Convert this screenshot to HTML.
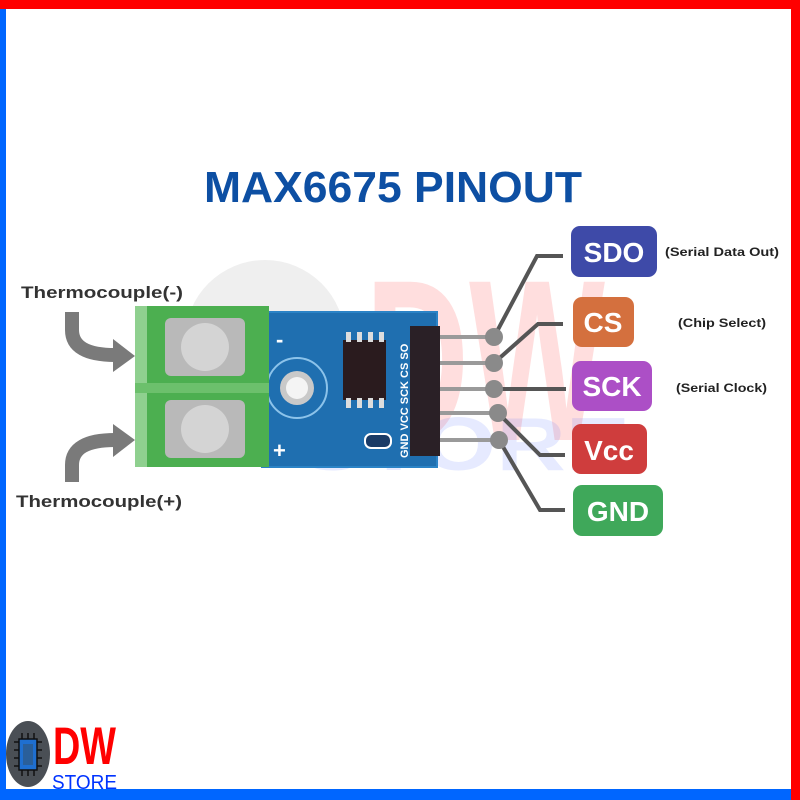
<!DOCTYPE html>
<html><head><meta charset="utf-8"><style>
html,body{margin:0;padding:0;background:#fff}
svg{display:block}
text{font-family:"Liberation Sans",sans-serif;font-weight:bold}
</style></head><body>
<svg width="800" height="800" viewBox="0 0 800 800" xmlns="http://www.w3.org/2000/svg">
<rect width="800" height="800" fill="#fff"/>
<!-- borders -->
<rect x="0" y="0" width="800" height="9" fill="#ff0000"/>
<rect x="791" y="0" width="9" height="800" fill="#ff0000"/>
<rect x="0" y="9" width="6" height="791" fill="#0066ff"/>
<rect x="0" y="789" width="791" height="11" fill="#0066ff"/>

<!-- watermarks -->
<circle cx="265" cy="340" r="80" fill="#efefef"/>
<text x="365" y="440" font-size="230" fill="#ff0000" fill-opacity="0.13" textLength="240" lengthAdjust="spacingAndGlyphs">DW</text>
<text x="300" y="470" font-size="75" fill="#3355ff" fill-opacity="0.12" textLength="330" lengthAdjust="spacingAndGlyphs">STORE</text>

<!-- title -->
<text x="204" y="202" font-size="44" fill="#0d4fa3" textLength="378" lengthAdjust="spacingAndGlyphs">MAX6675 PINOUT</text>

<!-- thermocouple labels -->
<text x="21" y="298" font-size="17" fill="#333" textLength="162" lengthAdjust="spacingAndGlyphs">Thermocouple(-)</text>
<text x="16" y="507" font-size="17" fill="#333" textLength="166" lengthAdjust="spacingAndGlyphs">Thermocouple(+)</text>
<!-- arrows -->
<path d="M72 312 L72 330 Q72 355 115 355" fill="none" stroke="#7a7a7a" stroke-width="14"/>
<polygon points="113,339 135,356 113,372" fill="#7a7a7a"/>
<path d="M72 482 L72 465 Q72 440 115 440" fill="none" stroke="#7a7a7a" stroke-width="14"/>
<polygon points="113,424 135,440 113,457" fill="#7a7a7a"/>

<!-- PCB -->
<rect x="262" y="312" width="175" height="155" fill="#1f6fb0"/>
<rect x="262" y="312" width="175" height="155" fill="none" stroke="#2b83c6" stroke-width="2"/>
<circle cx="297" cy="388" r="30" fill="none" stroke="#8cc3ea" stroke-width="2"/>
<circle cx="297" cy="388" r="17" fill="#c9c9c9"/>
<circle cx="297" cy="388" r="11" fill="#f4f4f4"/>
<text x="276" y="347" font-size="22" fill="#fff">-</text>
<text x="273" y="458" font-size="22" fill="#fff">+</text>
<rect x="343" y="340" width="43" height="60" fill="#2a1b1e"/>
<g fill="#ddd"><rect x="346" y="332" width="5" height="10"/><rect x="357" y="332" width="5" height="10"/><rect x="368" y="332" width="5" height="10"/><rect x="379" y="332" width="5" height="10"/>
<rect x="346" y="398" width="5" height="10"/><rect x="357" y="398" width="5" height="10"/><rect x="368" y="398" width="5" height="10"/><rect x="379" y="398" width="5" height="10"/></g>
<rect x="365" y="434" width="26" height="14" rx="6" fill="#1a3b66" stroke="#fff" stroke-width="2"/>
<text transform="translate(408,458) rotate(-90)" font-size="11" fill="#fff">GND VCC SCK CS SO</text>
<rect x="410" y="326" width="30" height="130" fill="#2a2026"/>

<!-- terminal block -->
<rect x="135" y="306" width="134" height="161" fill="#4caf50"/>
<rect x="135" y="306" width="12" height="161" fill="#8fd08f"/>
<rect x="135" y="383" width="134" height="10" fill="#6cc06c"/>
<rect x="165" y="318" width="80" height="58" rx="6" fill="#b9b9b9"/>
<circle cx="205" cy="347" r="24" fill="#d4d4d4"/>
<rect x="165" y="400" width="80" height="58" rx="6" fill="#b9b9b9"/>
<circle cx="205" cy="429" r="24" fill="#d4d4d4"/>

<!-- pins and connectors -->
<g stroke="#9a9a9a" stroke-width="4">
<line x1="440" y1="337" x2="494" y2="337"/><line x1="440" y1="363" x2="494" y2="363"/>
<line x1="440" y1="389" x2="494" y2="389"/><line x1="440" y1="413" x2="498" y2="413"/>
<line x1="440" y1="440" x2="499" y2="440"/></g>
<g fill="none" stroke="#555" stroke-width="4">
<polyline points="494,337 537,256 563,256"/>
<polyline points="494,363 538,324 563,324"/>
<polyline points="494,389 566,389"/>
<polyline points="498,413 540,455 565,455"/>
<polyline points="499,440 540,510 565,510"/></g>
<g fill="#8a8a8a"><circle cx="494" cy="337" r="9"/><circle cx="494" cy="363" r="9"/><circle cx="494" cy="389" r="9"/><circle cx="498" cy="413" r="9"/><circle cx="499" cy="440" r="9"/></g>

<!-- pin label boxes -->
<rect x="571" y="226" width="86" height="51" rx="9" fill="#3e4aa8"/>
<text x="614" y="262" font-size="28" fill="#fff" text-anchor="middle">SDO</text>
<rect x="573" y="297" width="61" height="50" rx="9" fill="#d4703e"/>
<text x="603" y="332" font-size="28" fill="#fff" text-anchor="middle">CS</text>
<rect x="572" y="361" width="80" height="50" rx="9" fill="#ac4fc6"/>
<text x="612" y="396" font-size="28" fill="#fff" text-anchor="middle">SCK</text>
<rect x="572" y="424" width="75" height="50" rx="9" fill="#cf3d3d"/>
<text x="609" y="460" font-size="28" fill="#fff" text-anchor="middle">Vcc</text>
<rect x="573" y="485" width="90" height="51" rx="9" fill="#3fa85a"/>
<text x="618" y="521" font-size="28" fill="#fff" text-anchor="middle">GND</text>

<text x="665" y="256" font-size="12" fill="#222" textLength="114" lengthAdjust="spacingAndGlyphs">(Serial Data Out)</text>
<text x="678" y="327" font-size="12" fill="#222" textLength="88" lengthAdjust="spacingAndGlyphs">(Chip Select)</text>
<text x="676" y="392" font-size="12" fill="#222" textLength="91" lengthAdjust="spacingAndGlyphs">(Serial Clock)</text>

<!-- logo -->
<ellipse cx="28" cy="754" rx="22" ry="33" fill="#4a4f55"/>
<g stroke="#111" stroke-width="1.5">
<line x1="14" y1="742" x2="42" y2="742"/><line x1="14" y1="750" x2="42" y2="750"/><line x1="14" y1="758" x2="42" y2="758"/><line x1="14" y1="766" x2="42" y2="766"/>
<line x1="22" y1="733" x2="22" y2="776"/><line x1="28" y1="733" x2="28" y2="776"/><line x1="34" y1="733" x2="34" y2="776"/></g>
<rect x="19" y="739" width="18" height="31" fill="#1f6fd0" stroke="#111" stroke-width="1.5"/>
<rect x="23" y="744" width="10" height="21" fill="#2a5f9a"/>
<text x="53" y="764" font-size="53" fill="#ff0000" textLength="63" lengthAdjust="spacingAndGlyphs">DW</text>
<text x="52" y="789" font-size="20" fill="#0033ff" style="font-weight:normal" textLength="65" lengthAdjust="spacingAndGlyphs">STORE</text>
</svg>
</body></html>
